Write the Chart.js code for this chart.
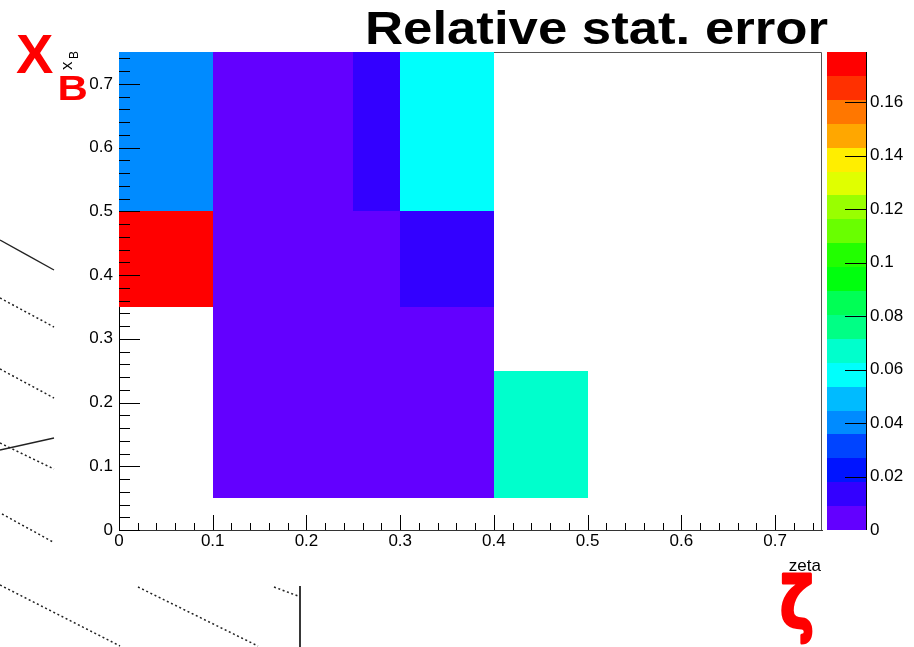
<!DOCTYPE html>
<html>
<head>
<meta charset="utf-8">
<title>Relative stat. error</title>
<script src="https://cdn.jsdelivr.net/npm/chart.js@4/dist/chart.umd.min.js"></script>
<style>
  html, body { margin: 0; padding: 0; background: #fff; }
  #wrap { position: relative; width: 914px; height: 647px; overflow: hidden; }
  #plot { position: absolute; left: 0; top: 0; }
  #sketch { position: absolute; left: 0; top: 0; pointer-events: none; }
</style>
</head>
<body>
<div id="wrap">
  <canvas id="plot" width="914" height="647"></canvas>
  <!-- faint pen strokes left over on the page around the plot -->
  <svg id="sketch" width="914" height="647" viewBox="0 0 914 647">
    <g stroke="#222" stroke-width="1.4" fill="none">
      <line x1="0" y1="240" x2="54" y2="270"/>
      <line x1="0" y1="450" x2="54" y2="438"/>
      <line x1="300" y1="586" x2="300" y2="647" stroke-width="1.8"/>
    </g>
    <g stroke="#222" stroke-width="1.5" fill="none" stroke-dasharray="2 2.6">
      <line x1="0" y1="298" x2="54" y2="327"/>
      <line x1="0" y1="369" x2="54" y2="398"/>
      <line x1="0" y1="443" x2="54" y2="469"/>
      <line x1="2" y1="514" x2="53" y2="542"/>
      <line x1="0" y1="585" x2="120" y2="646"/>
      <line x1="138" y1="587" x2="258" y2="646"/>
      <line x1="274" y1="587" x2="298" y2="596"/>
    </g>
  </svg>
</div>
<script>
// Bin edges of the 2D histogram
const zetaEdges = [0, 0.1, 0.25, 0.3, 0.4, 0.5];
const xBEdges = [0.05, 0.25, 0.35, 0.5, 0.75];

// Relative statistical error per zeta bin, one array per x_B bin (null = empty bin)
const errXb005to025 = [null, 0.0052, 0.0047, 0.0058, 0.067];
const errXb025to035 = [null, 0.0049, 0.0055, 0.0068, null];
const errXb035to050 = [0.1788, 0.0057, 0.0064, 0.013, null];
const errXb050to075 = [0.040, 0.0071, 0.013, 0.058, null];
const errRows = [errXb005to025, errXb025to035, errXb035to050, errXb050to075];

// Tick labels
const xTickValues = [0, 0.1, 0.2, 0.3, 0.4, 0.5, 0.6, 0.7];
const xTickLabels = ['0', '0.1', '0.2', '0.3', '0.4', '0.5', '0.6', '0.7'];
const yTickValues = [0, 0.1, 0.2, 0.3, 0.4, 0.5, 0.6, 0.7];
const yTickLabels = ['0', '0.1', '0.2', '0.3', '0.4', '0.5', '0.6', '0.7'];
const zTickValues = [0, 0.02, 0.04, 0.06, 0.08, 0.1, 0.12, 0.14, 0.16];
const zTickLabels = ['0', '0.02', '0.04', '0.06', '0.08', '0.1', '0.12', '0.14', '0.16'];

// 20-level violet-to-red contour palette
const bandColors = ['#6300ff', '#3300ff', '#0014ff', '#0044ff', '#008bff',
                    '#00bbff', '#00fffc', '#00ffcc', '#00ff85', '#00ff55',
                    '#00ff0e', '#22ff00', '#69ff00', '#99ff00', '#e0ff00',
                    '#ffee00', '#ffa700', '#ff7700', '#ff3000', '#ff0000'];

const zMin = 0;
const zMax = Math.max(...errRows.flat().filter(v => v !== null));
const nBands = bandColors.length;
const bandWidth = (zMax - zMin) / nBands;

function colorFor(v) {
  let k = Math.floor((v - zMin) / bandWidth);
  k = Math.max(0, Math.min(nBands - 1, k));
  return bandColors[k];
}

const FONT = '"Liberation Sans", Arial, Helvetica, sans-serif';
Chart.defaults.font.family = FONT;
Chart.defaults.color = '#000';

const heatmap = {
  id: 'heatmap',
  beforeDatasetsDraw(chart) {
    const { ctx, chartArea: a, scales: { x, y, z } } = chart;
    ctx.save();
    // frame (top and right sides)
    ctx.strokeStyle = '#555';
    ctx.lineWidth = 1;
    ctx.beginPath();
    ctx.moveTo(a.left, Math.round(a.top) + 0.5);
    ctx.lineTo(Math.round(a.right) - 0.5, Math.round(a.top) + 0.5);
    ctx.lineTo(Math.round(a.right) - 0.5, a.bottom);
    ctx.stroke();

    // histogram cells
    errRows.forEach((row, i) => {
      row.forEach((v, j) => {
        if (v === null) return;
        const x0 = Math.round(x.getPixelForValue(zetaEdges[j]));
        const x1 = Math.round(x.getPixelForValue(zetaEdges[j + 1]));
        const y0 = Math.round(y.getPixelForValue(xBEdges[i]));
        const y1 = Math.round(y.getPixelForValue(xBEdges[i + 1]));
        ctx.fillStyle = colorFor(v);
        ctx.fillRect(x0, y1, x1 - x0, y0 - y1);
      });
    });

    // colour scale
    const barL = Math.round(a.right) + 5;
    const barR = barL + 39;
    for (let k = 0; k < nBands; k++) {
      const yb = Math.round(z.getPixelForValue(zMin + k * bandWidth));
      const yt = Math.round(z.getPixelForValue(zMin + (k + 1) * bandWidth));
      ctx.fillStyle = bandColors[k];
      ctx.fillRect(barL, yt, barR - barL, yb - yt);
    }
    ctx.strokeStyle = '#000';
    ctx.beginPath();
    ctx.moveTo(barR + 0.5, Math.round(z.top));
    ctx.lineTo(barR + 0.5, Math.round(z.bottom));
    zTickValues.forEach(v => {
      if (v <= zMin || v > zMax) return;
      const py = Math.round(z.getPixelForValue(v)) + 0.5;
      ctx.moveTo(barR - 21, py);
      ctx.lineTo(barR + 0.5, py);
    });
    ctx.stroke();
    ctx.restore();
  },
  afterDraw(chart) {
    const { ctx, chartArea: a, scales: { x, y } } = chart;
    ctx.save();
    // inward tick marks, majors every 0.1 and minors every 0.02
    ctx.strokeStyle = '#000';
    ctx.lineWidth = 1;
    ctx.beginPath();
    for (let n = 0; n <= 37; n++) {
      const v = n * 0.02;
      const major = n % 5 === 0;
      const px = Math.round(x.getPixelForValue(v)) + 0.5;
      ctx.moveTo(px, a.bottom);
      ctx.lineTo(px, a.bottom - (major ? 15 : 7));
      const py = Math.round(y.getPixelForValue(v)) + 0.5;
      ctx.moveTo(a.left, py);
      ctx.lineTo(a.left + (major ? 21 : 11), py);
    }
    ctx.stroke();

    // title
    ctx.fillStyle = '#000';
    ctx.font = 'bold 47px ' + FONT;
    ctx.textBaseline = 'alphabetic';
    ctx.textAlign = 'left';
    const title = 'Relative stat. error';
    const tw = ctx.measureText(title).width;
    ctx.save();
    ctx.translate(365, 44);
    ctx.scale(463 / tw, 1);
    ctx.fillText(title, 0, 0);
    ctx.restore();

    // axis titles
    ctx.font = '17px ' + FONT;
    ctx.textAlign = 'right';
    ctx.fillText('zeta', Math.round(a.right) - 1, 571);

    ctx.save();
    ctx.translate(a.left - 47, 70);
    ctx.rotate(-Math.PI / 2);
    ctx.textAlign = 'left';
    ctx.font = '17px ' + FONT;
    ctx.fillText('x', 0, 0);
    ctx.font = '12px ' + FONT;
    ctx.fillText('B', 11, 6);
    ctx.restore();

    // red variable names
    ctx.fillStyle = '#ff0000';
    ctx.textAlign = 'left';
    ctx.font = 'bold 56px ' + FONT;
    ctx.fillText('X', 16, 73);
    ctx.save();
    ctx.translate(60, 100);
    ctx.scale(1.2, 1);
    ctx.font = 'bold 35px ' + FONT;
    ctx.fillText('B', -2, 0);
    ctx.restore();

    ctx.save();
    ctx.translate(797, 628);
    ctx.scale(0.8, 1);
    ctx.font = 'bold 72px "DejaVu Sans"';
    ctx.textAlign = 'center';
    ctx.strokeStyle = '#ff0000';
    ctx.lineWidth = 3;
    ctx.lineJoin = 'round';
    ctx.fillText('\u03B6', 0, 0);
    ctx.strokeText('\u03B6', 0, 0);
    ctx.restore();

    ctx.restore();
  }
};

new Chart(document.getElementById('plot'), {
  type: 'scatter',
  data: { datasets: [] },
  options: {
    responsive: false,
    animation: false,
    devicePixelRatio: 1,
    layout: { padding: { top: 52, left: 0, right: 0, bottom: 0 } },
    plugins: { legend: { display: false }, tooltip: { enabled: false }, title: { display: false } },
    scales: {
      x: {
        type: 'linear', position: 'bottom', min: 0, max: 0.75, z: 1,
        grid: { display: false, drawTicks: false },
        border: { display: true, color: '#333', width: 1 },
        ticks: {
          padding: 1, maxRotation: 0, autoSkip: false, color: '#000',
          font: { size: 17 },
          callback: (v, i) => xTickLabels[i]
        },
        afterBuildTicks: s => { s.ticks = xTickValues.map(v => ({ value: v })); },
        afterFit: s => { s.height = 117; }
      },
      y: {
        type: 'linear', position: 'left', min: 0, max: 0.75, z: 1,
        grid: { display: false, drawTicks: false },
        border: { display: true, color: '#000', width: 1 },
        ticks: {
          padding: 6, autoSkip: false, color: '#000',
          font: { size: 17 },
          callback: (v, i) => yTickLabels[i]
        },
        afterBuildTicks: s => { s.ticks = yTickValues.map(v => ({ value: v })); },
        afterFit: s => { s.width = 119; }
      },
      z: {
        type: 'linear', axis: 'y', position: 'right', min: zMin, max: zMax,
        grid: { display: false, drawTicks: true, tickLength: 44 },
        border: { display: false },
        ticks: {
          padding: 4, autoSkip: false, color: '#000',
          font: { size: 17 },
          callback: (v, i) => zTickLabels[i]
        },
        afterBuildTicks: s => { s.ticks = zTickValues.map(v => ({ value: v })); },
        afterFit: s => { s.width = 92; }
      }
    }
  },
  plugins: [heatmap]
});
</script>
</body>
</html>
